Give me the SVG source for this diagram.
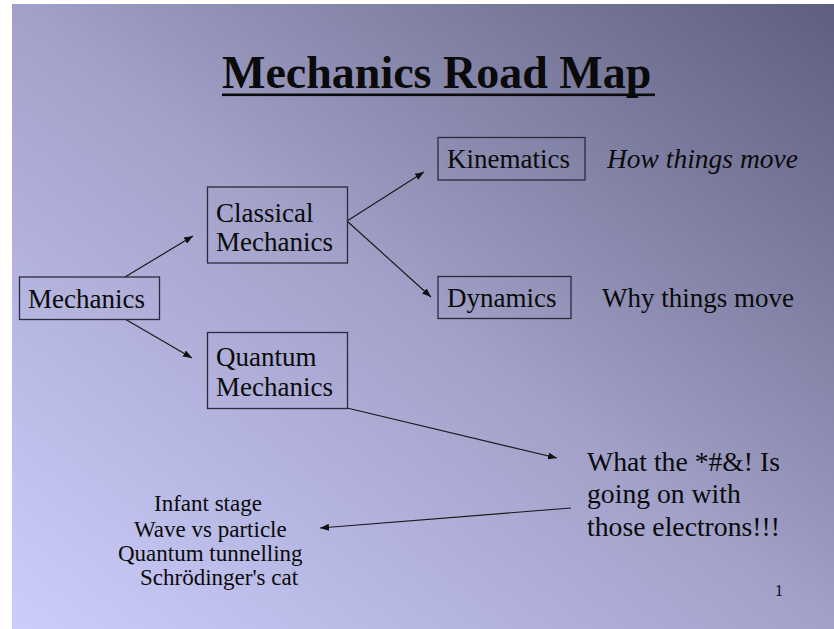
<svg xmlns="http://www.w3.org/2000/svg" width="834" height="629" viewBox="0 0 834 629">
  <defs>
    <linearGradient id="bg" x1="0" y1="1" x2="1" y2="0">
      <stop offset="0" stop-color="#cdcdfd"/>
      <stop offset="0.5" stop-color="#a1a1c9"/>
      <stop offset="1" stop-color="#5e5e7e"/>
    </linearGradient>
    <marker id="arr" markerUnits="userSpaceOnUse" markerWidth="10" markerHeight="7" refX="9" refY="3.5" orient="auto">
      <path d="M0,0 L9,3.5 L0,7 z" fill="#111"/>
    </marker>
    <style>
      .t { font-family: "Liberation Serif", "Times New Roman", serif; fill: #0a0a0a; }
      .m { font-size: 27px; }
      .box { fill: none; stroke: #2a2a3a; stroke-width: 1.3; }
      .con { stroke: #1a1a1a; stroke-width: 1.2; fill: none; marker-end: url(#arr); }
      .list { font-size: 23px; }
    </style>
  </defs>
  <rect x="0" y="0" width="834" height="629" fill="#ffffff"/>
  <rect x="12" y="4" width="822" height="625" fill="url(#bg)"/>

  <g id="title">
    <text class="t" x="222" y="88" font-size="46" font-weight="bold">Mechanics Road Map</text>
    <rect x="222" y="93.5" width="433" height="2.6" fill="#0a0a0a"/>
  </g>

  <g id="connectors">
    <line class="con" x1="125" y1="277" x2="193" y2="236"/>
    <line class="con" x1="125" y1="319" x2="192" y2="358"/>
    <line class="con" x1="347" y1="221" x2="424" y2="172"/>
    <line class="con" x1="347" y1="221" x2="431" y2="297"/>
    <line class="con" x1="347" y1="408" x2="557" y2="458"/>
    <line class="con" x1="571" y1="508" x2="320" y2="528"/>
  </g>

  <g id="mechanics">
    <rect class="box" x="19.5" y="277" width="140" height="42.5"/>
    <text class="t m" x="28" y="308">Mechanics</text>
  </g>

  <g id="classical">
    <rect class="box" x="207.5" y="187" width="140" height="76"/>
    <text class="t m" x="216" y="222">Classical</text>
    <text class="t m" x="216" y="251">Mechanics</text>
  </g>

  <g id="quantum">
    <rect class="box" x="207.5" y="332.5" width="140" height="76"/>
    <text class="t m" x="216" y="366">Quantum</text>
    <text class="t m" x="216" y="396">Mechanics</text>
  </g>

  <g id="kinematics">
    <rect class="box" x="438" y="137.5" width="147" height="42.5"/>
    <text class="t m" x="447" y="168">Kinematics</text>
  </g>
  <g id="how">
    <text class="t" x="607" y="168" font-size="27.5" font-style="italic">How things move</text>
  </g>

  <g id="dynamics">
    <rect class="box" x="438" y="276.5" width="133" height="42"/>
    <text class="t m" x="447" y="307">Dynamics</text>
  </g>
  <g id="why">
    <text class="t" x="602" y="307" font-size="27">Why things move</text>
  </g>

  <g id="what">
    <text class="t" x="587" y="471" font-size="27.7">What the *#&amp;! Is</text>
    <text class="t" x="587" y="503" font-size="27.7">going on with</text>
    <text class="t" x="587" y="536" font-size="27.7">those electrons!!!</text>
  </g>

  <g id="list">
    <text class="t list" x="154" y="511">Infant stage</text>
    <text class="t list" x="134" y="537">Wave vs particle</text>
    <text class="t list" x="118" y="561">Quantum tunnelling</text>
    <text class="t list" x="140" y="585">Schrödinger's cat</text>
  </g>

  <g id="page">
    <text class="t" x="775" y="596" font-size="16">1</text>
  </g>
</svg>
